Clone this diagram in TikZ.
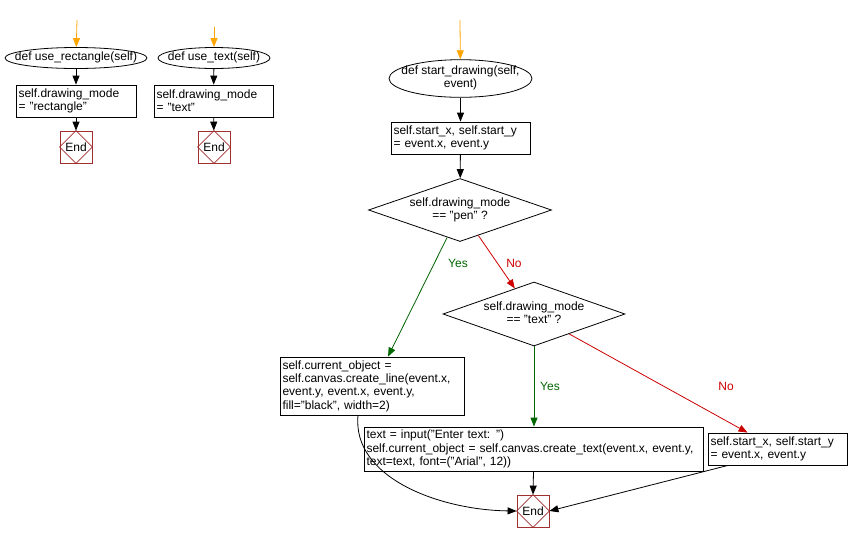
\documentclass[tikz,border=0pt]{standalone}
\usepackage{fontspec}
\setmainfont{Liberation Sans}
\usetikzlibrary{shapes.geometric,arrows.meta,calc}
\definecolor{startor}{HTML}{FFA500}
\definecolor{yesg}{HTML}{006600}
\definecolor{nor}{HTML}{CC0000}
\definecolor{endr}{HTML}{A03030}
\tikzset{
  every node/.style={font=\fontsize{12}{13.3}\selectfont},
  box/.style={draw, align=left, inner xsep=2.5pt, inner ysep=1pt, line width=0.8pt, anchor=center},
  oval/.style={draw, ellipse, inner sep=0pt, line width=0.8pt, align=center},
  dia/.style={draw, diamond, inner sep=0pt, aspect=2.9, line width=0.8pt, align=center, minimum width=183pt, minimum height=63pt},
  endbox/.style={draw=endr, minimum width=32pt, minimum height=32pt, inner sep=0pt, line width=0.8pt},
  arr/.style={-{Triangle[length=9pt,width=7pt]}, line width=0.8pt},
  startarr/.style={arr, startor},
  yesarr/.style={arr, yesg},
  noarr/.style={arr, nor},
  lab/.style={inner sep=0pt}
}
\newcommand{\myfinishdia}[1]{\draw[endr, line width=0.8pt] (#1.north) -- (#1.east) -- (#1.south) -- (#1.west) -- cycle;}
\newcommand{\zw}[1]{\makebox[0pt]{\begin{tabular}{@{}c@{}}#1\end{tabular}}}
\begin{document}
\begin{tikzpicture}[x=1pt,y=-1pt]
\useasboundingbox (0,0) rectangle (849,542);
% left column 1
\coordinate (s1) at (77,20);
\node[oval, minimum width=142pt, minimum height=21pt] (e1) at (76,58) {\zw{def use\_rectangle(self)}};
\node[box, text width=115pt, minimum height=32pt] (b1) at (76,101) {self.drawing\_mode\\= "rectangle"};
\node[endbox] (end1) at (76,147) {End};
\myfinishdia{end1}
\draw[startarr] (s1) -- (e1);
\draw[arr] (e1) -- (b1);
\draw[arr] (b1) -- (end1);
% left column 2
\coordinate (s2) at (214,27);
\node[oval, minimum width=112pt, minimum height=21pt] (e2) at (214,58) {\zw{def use\_text(self)}};
\node[box, text width=114pt, minimum height=32pt] (b2) at (213.5,101) {self.drawing\_mode\\= "text"};
\node[endbox] (end2) at (214,147) {End};
\myfinishdia{end2}
\draw[startarr] (s2) -- (e2);
\draw[arr] (e2) -- (b2);
\draw[arr] (b2) -- (end2);
% main
\coordinate (s3) at (460,20);
\node[oval, minimum width=143pt, minimum height=37pt] (e3) at (460.5,78.5) {\zw{def start\_drawing(self,\\event)}};
\node[box, text width=134pt, minimum height=32pt] (b3) at (460.5,138) {self.start\_x, self.start\_y\\= event.x, event.y};
\node[dia] (d1) at (460,210) {\zw{self.drawing\_mode\\== "pen" ?}};
\node[dia, minimum width=182pt, minimum height=64pt] (d2) at (534,314) {\zw{self.drawing\_mode\\== "text" ?}};
\node[box, text width=179pt, minimum height=58pt] (b4) at (372,386) {self.current\_object =\\self.canvas.create\_line(event.x,\\event.y, event.x, event.y,\\fill="black", width=2)};
\node[box, text width=334pt, minimum height=44pt] (b5) at (533.5,449) {text = input("Enter text: ")\\self.current\_object = self.canvas.create\_text(event.x, event.y,\\text=text, font=("Arial", 12))};
\node[box, text width=134pt, minimum height=32pt] (b6) at (777.5,449) {self.start\_x, self.start\_y\\= event.x, event.y};
\node[endbox] (end3) at (533,511) {End};
\myfinishdia{end3}
\draw[startarr] (s3) -- (e3);
\draw[arr] (e3) -- (b3);
\draw[arr] (b3) -- (d1);
\draw[yesarr] ($(d1.south)!0.14!(d1.west)$) -- ($(b4.north)+(16,0)$);
\draw[noarr] ($(d1.south)!0.2!(d1.east)$) -- ($(d2.north)!0.21!(d2.west)$);
\draw[yesarr] (d2.south) -- (d2.south |- b5.north);
\draw[noarr] ($(d2.south)!0.385!(d2.east)$) -- ($(b6.north)+(-30,0)$);
\draw[arr] (b5.south) -- (end3.north);
\draw[arr] ($(b6.south)+(-49.5,0)$) -- (end3.east);
\draw[arr] ($(b4.south)+(-14,0)$) .. controls (352,478) and (440,510) .. (end3.west);
\node[lab, text=yesg] (y1) at (458,263) {Yes};
\node[lab, text=nor] (n1) at (514,263) {No};
\node[lab, text=yesg] (y2) at (550,386) {Yes};
\node[lab, text=nor] (n2) at (726,386) {No};
\end{tikzpicture}
\end{document}
